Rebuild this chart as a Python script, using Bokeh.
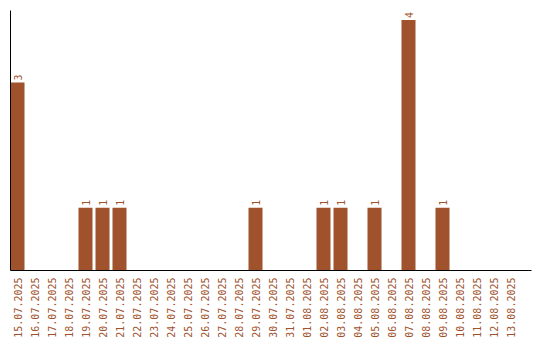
import math
from bokeh.plotting import figure
from bokeh.models import ColumnDataSource, Range1d, FixedTicker
from bokeh.core.properties import value
from bokeh.embed import file_html
from bokeh.resources import INLINE

dates = ["15.07.2025", "16.07.2025", "17.07.2025", "18.07.2025", "19.07.2025",
         "20.07.2025", "21.07.2025", "22.07.2025", "23.07.2025", "24.07.2025",
         "25.07.2025", "26.07.2025", "27.07.2025", "28.07.2025", "29.07.2025",
         "30.07.2025", "31.07.2025", "01.08.2025", "02.08.2025", "03.08.2025",
         "04.08.2025", "05.08.2025", "06.08.2025", "07.08.2025", "08.08.2025",
         "09.08.2025", "10.08.2025", "11.08.2025", "12.08.2025", "13.08.2025"]
counts = [3, 0, 0, 0, 1, 1, 1, 0, 0, 0, 0, 0, 0, 0, 1,
          0, 0, 0, 1, 1, 0, 1, 0, 4, 0, 1, 0, 0, 0, 0]

color = "#A0522D"
idx = list(range(len(dates)))

p = figure(width=540, height=340,
           x_range=Range1d(-7 / 17, -7 / 17 + 521 / 17), y_range=Range1d(0, 4.15),
           output_backend="svg", toolbar_location=None,
           min_border_left=10, min_border_right=9, min_border_top=10, min_border_bottom=70)
p.outline_line_color = None
p.xgrid.grid_line_color = None
p.ygrid.grid_line_color = None

src = ColumnDataSource(dict(x=idx, y=counts))
p.vbar(x="x", top="y", width=14 / 17, source=src, fill_color=color, line_color=None)

lab = ColumnDataSource(dict(x=[i for i, c in zip(idx, counts) if c > 0],
                            y=[c for c in counts if c > 0],
                            t=[str(c) for c in counts if c > 0]))
p.text(x="x", y="y", text="t", source=lab, angle=math.pi / 2, text_align="left",
       text_baseline="middle", y_offset=-2, text_color=color,
       text_font=value("DejaVu Sans Mono"), text_font_size="10px")

p.yaxis.ticker = FixedTicker(ticks=[])
p.yaxis.major_tick_line_color = None
p.yaxis.minor_tick_line_color = None
p.yaxis.axis_line_color = "black"

p.xaxis.ticker = FixedTicker(ticks=idx)
p.xaxis.major_label_overrides = {i: d for i, d in zip(idx, dates)}
p.xaxis.major_tick_line_color = None
p.xaxis.minor_tick_line_color = None
p.xaxis.axis_line_color = "black"
p.xaxis.major_label_orientation = math.pi / 2
p.xaxis.major_label_text_color = color
p.xaxis.major_label_text_font = "DejaVu Sans Mono"
p.xaxis.major_label_text_font_size = "10px"
p.xaxis.major_label_standoff = 1

open("out.html", "w").write(file_html(p, INLINE))
